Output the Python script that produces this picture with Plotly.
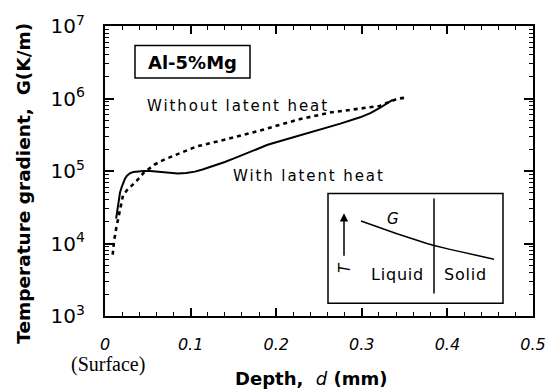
import plotly.graph_objects as go

# Depth below the surface (mm) and temperature gradient G (K/m)
depth_with_latent = [0.013, 0.0155, 0.0175, 0.0195, 0.0215, 0.0235, 0.0257, 0.029,
                     0.033, 0.038, 0.045, 0.053, 0.06, 0.068, 0.076, 0.085,
                     0.095, 0.105, 0.114, 0.123, 0.132, 0.14, 0.15, 0.158,
                     0.175, 0.19, 0.21, 0.228, 0.25, 0.275, 0.298, 0.31,
                     0.321, 0.331, 0.336]
g_with_latent = [2.2e4, 3.5e4, 5.0e4, 6.0e4, 7.0e4, 7.9e4, 8.6e4, 9.3e4,
                 9.7e4, 9.9e4, 1.0e5, 1.0e5, 0.98e5, 0.95e5, 0.93e5, 0.925e5,
                 0.94e5, 0.98e5, 1.05e5, 1.13e5, 1.23e5, 1.33e5, 1.48e5, 1.62e5,
                 1.95e5, 2.3e5, 2.7e5, 3.1e5, 3.7e5, 4.5e5, 5.5e5, 6.3e5,
                 7.4e5, 8.8e5, 9.6e5]

depth_without_latent = [0.009, 0.0105, 0.013, 0.017, 0.021, 0.026, 0.031, 0.037,
                        0.045, 0.058, 0.07, 0.088, 0.107, 0.134, 0.16, 0.181,
                        0.2, 0.228, 0.263, 0.295, 0.321, 0.333, 0.343, 0.353]
g_without_latent = [7.0e3, 1.06e4, 1.6e4, 2.8e4, 4.6e4, 5.5e4, 6.3e4, 7.3e4,
                    9.4e4, 1.23e5, 1.45e5, 1.76e5, 2.18e5, 2.6e5, 3.1e5, 3.6e5,
                    4.2e5, 5.2e5, 6.4e5, 7.2e5, 7.9e5, 9.1e5, 1.0e6, 1.03e6]

x_range = [0, 0.5]
x_major_step = 0.1
x_minor_step = 0.02
y_log_range = [3, 7]

# Schematic inset: G across the liquid/solid boundary (pixel layout)
inset_curve_px_x = [361, 397, 427, 434, 450, 494]
inset_curve_px_y = [219, 232, 242, 244, 248, 258]

W, H = 558, 390
L, R, T, B = 105, 533, 20, 316


def fx(px):
    return (px - L) / (R - L)


def fy(py):
    return (B - py) / (B - T)


SANS = "DejaVu Sans"

fig = go.Figure()
fig.add_trace(go.Scatter(x=depth_without_latent, y=g_without_latent, mode="lines",
                         line=dict(color="black", width=2.6, dash="4px,4px"),
                         showlegend=False))
fig.add_trace(go.Scatter(x=depth_with_latent, y=g_with_latent, mode="lines",
                         line=dict(color="black", width=2),
                         showlegend=False))

fig.update_layout(
    width=W, height=H, margin=dict(l=L, r=W - R, t=T, b=H - B),
    plot_bgcolor="white",
    xaxis=dict(range=x_range, tick0=0, dtick=x_major_step,
               ticks="inside", ticklen=8, tickwidth=2, tickcolor="black",
               showline=True, linecolor="black", linewidth=2, mirror="ticks",
               tickfont=dict(family=SANS, size=16, style="italic", color="black"),
               minor=dict(ticks="inside", dtick=x_minor_step, ticklen=4,
                          tickwidth=1, tickcolor="black")),
    yaxis=dict(type="log", range=y_log_range, dtick=1,
               exponentformat="power", showexponent="all",
               ticks="inside", ticklen=9, tickwidth=2, tickcolor="black",
               showline=True, linecolor="black", linewidth=2, mirror="ticks",
               tickfont=dict(family=SANS, size=16, color="black"),
               minor=dict(ticks="inside", dtick="D1", ticklen=4, tickwidth=1,
                          tickcolor="black")),
)

shapes = [
    # alloy label frame
    dict(type="rect", xref="paper", yref="paper", x0=fx(135), x1=fx(250),
         y0=fy(73), y1=fy(40), line=dict(color="black", width=1.5)),
    # inset frame
    dict(type="rect", xref="paper", yref="paper", x0=fx(328), x1=fx(503),
         y0=fy(303), y1=fy(191), line=dict(color="black", width=1.5),
         fillcolor="white", layer="above"),
    # liquid/solid boundary
    dict(type="line", xref="paper", yref="paper", x0=fx(434), x1=fx(434),
         y0=fy(293), y1=fy(196), line=dict(color="black", width=1.5), layer="above"),
    # schematic G curve
    dict(type="path", xref="paper", yref="paper", layer="above",
         path="M " + " L ".join(f"{fx(a):.4f},{fy(b):.4f}"
                                for a, b in zip(inset_curve_px_x, inset_curve_px_y)),
         line=dict(color="black", width=1.5)),
]


def note(text, px, py, size, family=SANS, xanchor="center", **kw):
    return dict(text=text, xref="paper", yref="paper", x=fx(px), y=fy(py),
                xanchor=xanchor, yanchor="middle", showarrow=False,
                align="left" if xanchor == "left" else "center",
                font=dict(family=family, size=size, color="black"), **kw)


annotations = [
    note("<b>Al-5%Mg</b>", 192.5, 57, 18),
    note("Without latent heat", 145, 102, 15, xanchor="left"),
    note("With latent heat", 231, 173, 15, xanchor="left"),
    note("<i>G</i>", 393, 217, 15),
    note("Liquid", 369, 274, 16, xanchor="left"),
    note("Solid", 442, 274, 16, xanchor="left"),
    note("<i>T</i>", 345, 267, 15, textangle=-90),
    note("(Surface)", 108, 366, 20, family="Liberation Serif"),
    note("<b>Depth,  </b><i>d</i><b> (mm)</b>", 311, 380, 18),
    note("<b>Temperature gradient,  G(K/m)</b>", 24, 181, 18.5, textangle=-90),
    # temperature arrow in the inset
    dict(x=fx(344), y=fy(211), xref="paper", yref="paper", text="", showarrow=True,
         ax=0, ay=44, arrowhead=2, arrowsize=1.1, arrowwidth=1.5, arrowcolor="black"),
]

fig.update_layout(shapes=shapes, annotations=annotations, showlegend=False)

# wider letter spacing on the curve labels; tick labels set back from the axes
post_js = """
document.querySelectorAll('.annotation-text').forEach(function (t) {
  var s = t.textContent;
  if (s.indexOf('latent') >= 0) { t.style.letterSpacing = '1.9px'; }
  else if (s === 'Liquid' || s === 'Solid') { t.style.letterSpacing = '0.8px'; }
});
document.querySelectorAll('g.xtick').forEach(function (g) {
  g.setAttribute('transform', (g.getAttribute('transform') || '') + ' translate(0,13)');
});
document.querySelectorAll('g.ytick').forEach(function (g) {
  g.setAttribute('transform', (g.getAttribute('transform') || '') + ' translate(-15,0)');
});
"""

fig.write_html("out.html", post_script=post_js)
